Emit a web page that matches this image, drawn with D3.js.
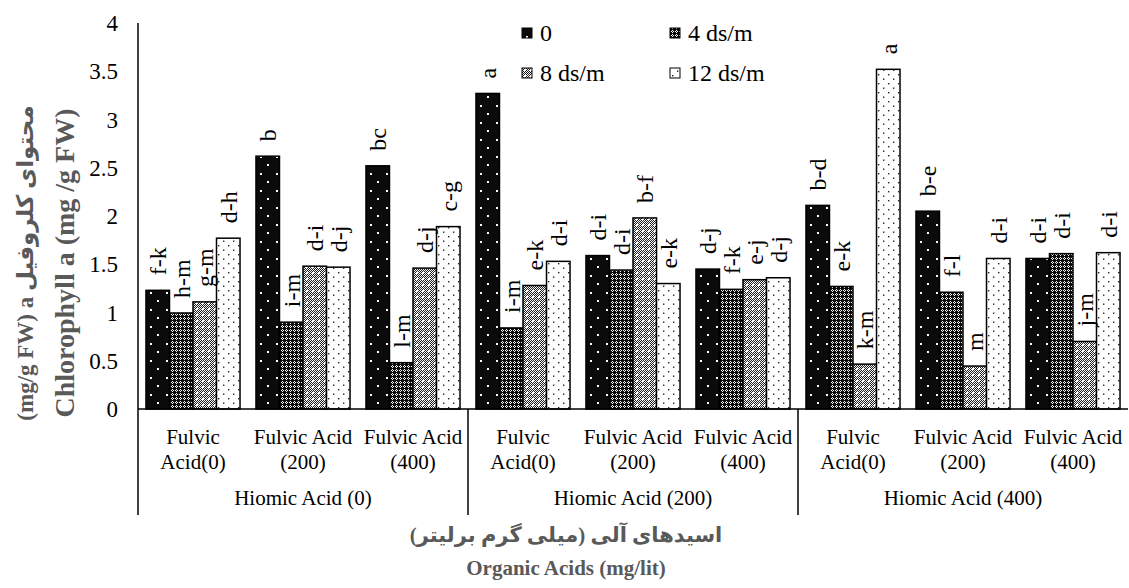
<!DOCTYPE html>
<html>
<head>
<meta charset="utf-8">
<script src="https://cdn.jsdelivr.net/npm/d3@7"></script>
<style>
  body { margin: 0; background: #fff; }
  text { font-family: "Liberation Serif", "Times New Roman", serif; }
</style>
</head>
<body>
<div id="chart"></div>
<script>
// data
var hiomicLabels = ["Hiomic Acid (0)", "Hiomic Acid (200)", "Hiomic Acid (400)"];
var fulvicLabels = [["Fulvic", "Acid(0)"], ["Fulvic Acid", "(200)"], ["Fulvic Acid", "(400)"]];
var seriesNames = ["0", "4 ds/m", "8 ds/m", "12 ds/m"];

var s0  = [1.23, 2.62, 2.52, 3.27, 1.59, 1.45, 2.11, 2.05, 1.56];
var s4  = [0.995, 0.90, 0.48, 0.84, 1.44, 1.24, 1.27, 1.21, 1.61];
var s8  = [1.11, 1.48, 1.46, 1.28, 1.98, 1.34, 0.465, 0.445, 0.70];
var s12 = [1.77, 1.47, 1.89, 1.53, 1.30, 1.36, 3.52, 1.56, 1.62];

var l0  = ["f-k", "b", "bc", "a", "d-i", "d-j", "b-d", "b-e", "d-i"];
var l4  = ["h-m", "i-m", "l-m", "i-m", "d-i", "f-k", "e-k", "f-l", "d-i"];
var l8  = ["g-m", "d-i", "d-j", "e-k", "b-f", "e-j", "k-m", "m", "j-m"];
var l12 = ["d-h", "d-j", "c-g", "d-i", "e-k", "d-j", "a", "d-i", "d-i"];

var yTicks = [0, 0.5, 1, 1.5, 2, 2.5, 3, 3.5, 4];

var values = [s0, s4, s8, s12];
var letters = [l0, l4, l8, l12];

// one cell per hiomic x fulvic combination
var cells = [];
hiomicLabels.forEach(function(h, i) {
  fulvicLabels.forEach(function(f, j) {
    cells.push({ id: i * 3 + j, hiomic: i, fulvic: f });
  });
});

var W = 1129, H = 588;
var plotL = 138, plotR = 1128, plotT = 23, base = 409, bottomLine = 515;

var svg = d3.select("#chart").append("svg")
  .attr("width", W).attr("height", H);

// patterns
var defs = svg.append("defs");

var p0 = defs.append("pattern").attr("id", "pat0")
  .attr("patternUnits", "userSpaceOnUse").attr("width", 16).attr("height", 17);
p0.append("rect").attr("width", 16).attr("height", 17).attr("fill", "#0b0b0b");
p0.append("rect").attr("x", 4).attr("y", 3).attr("width", 2).attr("height", 2).attr("fill", "#fff");
p0.append("rect").attr("x", 11).attr("y", 11).attr("width", 2).attr("height", 2).attr("fill", "#fff");

var p4 = defs.append("pattern").attr("id", "pat1")
  .attr("patternUnits", "userSpaceOnUse").attr("width", 4).attr("height", 4);
p4.append("rect").attr("width", 4).attr("height", 4).attr("fill", "#0d0d0d");
[[2, 1], [1, 2], [3, 2], [2, 3]].forEach(function(p) {
  p4.append("rect").attr("x", p[0]).attr("y", p[1]).attr("width", 1).attr("height", 1).attr("fill", "#fff");
});

var p8 = defs.append("pattern").attr("id", "pat2")
  .attr("patternUnits", "userSpaceOnUse").attr("width", 6).attr("height", 6);
p8.append("rect").attr("width", 6).attr("height", 6).attr("fill", "#1a1a1a");
for (var yy = 0; yy < 6; yy++) {
  for (var xx = 0; xx < 6; xx++) {
    if ((xx + yy) % 2 === 0) {
      p8.append("rect").attr("x", xx).attr("y", yy).attr("width", 1).attr("height", 1).attr("fill", "#fff");
    }
  }
}
p8.append("rect").attr("x", 2).attr("y", 2).attr("width", 2).attr("height", 2).attr("fill", "#fff");

var p12 = defs.append("pattern").attr("id", "pat3")
  .attr("patternUnits", "userSpaceOnUse").attr("width", 10).attr("height", 9);
p12.append("rect").attr("width", 10).attr("height", 9).attr("fill", "#fff");
p12.append("rect").attr("x", 2).attr("y", 2).attr("width", 1.4).attr("height", 1.4).attr("fill", "#222");
p12.append("rect").attr("x", 7).attr("y", 6.5).attr("width", 1.4).attr("height", 1.4).attr("fill", "#222");

// scales
var x0 = d3.scaleBand()
  .domain(cells.map(function(d) { return d.id; }))
  .range([plotL, plotR])
  .paddingInner(0.145)
  .paddingOuter(0.0725);

var x1 = d3.scaleBand()
  .domain(d3.range(seriesNames.length))
  .range([0, x0.bandwidth()]);

var y = d3.scaleLinear().domain([0, 4]).range([base, plotT]);

// y tick labels
svg.append("g").selectAll("text")
  .data(yTicks).enter().append("text")
    .attr("x", 118)
    .attr("y", function(d) { return y(d); })
    .attr("dy", "0.35em")
    .attr("text-anchor", "end")
    .attr("font-size", 23)
    .text(function(d) { return d; });

// bars
var groups = svg.append("g").selectAll("g")
  .data(cells).enter().append("g")
    .attr("transform", function(d) { return "translate(" + x0(d.id) + ",0)"; });

function cellBars(d) {
  return values.map(function(v, k) { return { k: k, v: v[d.id], lab: letters[k][d.id] }; });
}

groups.selectAll("rect")
  .data(cellBars)
  .enter().append("rect")
    .attr("x", function(d) { return x1(d.k); })
    .attr("y", function(d) { return y(d.v); })
    .attr("width", x1.bandwidth())
    .attr("height", function(d) { return base - y(d.v); })
    .attr("fill", function(d) { return "url(#pat" + d.k + ")"; })
    .attr("stroke", "#000")
    .attr("stroke-width", 1.5);

// significance letters
groups.selectAll("text")
  .data(cellBars)
  .enter().append("text")
    .attr("transform", function(d) {
      return "translate(" + (x1(d.k) + x1.bandwidth() / 2) + "," + (y(d.v) - 15) + ") rotate(-90)";
    })
    .attr("dy", "0.35em")
    .attr("font-size", 24)
    .text(function(d) { return d.lab; });

// axis lines
svg.append("line")
  .attr("x1", plotL).attr("x2", plotL).attr("y1", plotT).attr("y2", bottomLine)
  .attr("stroke", "#000").attr("stroke-width", 1.5);
svg.append("line")
  .attr("x1", plotL).attr("x2", plotR).attr("y1", base).attr("y2", base)
  .attr("stroke", "#000").attr("stroke-width", 1.5);

// separators between hiomic groups (midway in the gap)
var step = x0.step();
[3, 6].forEach(function(i) {
  var xs = x0(i) - step * x0.paddingInner() / 2;
  svg.append("line")
    .attr("x1", xs).attr("x2", xs).attr("y1", base).attr("y2", bottomLine)
    .attr("stroke", "#000").attr("stroke-width", 1.5);
});

// fulvic labels
var catLab = svg.append("g").selectAll("text")
  .data(cells).enter().append("text")
    .attr("x", function(d) { return x0(d.id) + x0.bandwidth() / 2; })
    .attr("y", 444)
    .attr("text-anchor", "middle")
    .attr("font-size", 21);
catLab.append("tspan").text(function(d) { return d.fulvic[0]; });
catLab.append("tspan")
  .attr("x", function(d) { return x0(d.id) + x0.bandwidth() / 2; })
  .attr("dy", 25)
  .text(function(d) { return d.fulvic[1]; });

// hiomic labels
svg.append("g").selectAll("text")
  .data(hiomicLabels).enter().append("text")
    .attr("x", function(d, i) { return (x0(i * 3) + x0(i * 3 + 2) + x0.bandwidth()) / 2; })
    .attr("y", 505)
    .attr("text-anchor", "middle")
    .attr("font-size", 21)
    .text(function(d) { return d; });

// legend
var legend = svg.append("g").selectAll("g")
  .data(seriesNames).enter().append("g")
    .attr("transform", function(d, i) {
      return "translate(" + (522 + (i % 2) * 148) + "," + (33 + Math.floor(i / 2) * 40) + ")";
    });
legend.append("rect")
  .attr("x", 0).attr("y", -5).attr("width", 10).attr("height", 10)
  .attr("fill", function(d, i) { return "url(#pat" + i + ")"; })
  .attr("stroke", "#000").attr("stroke-width", 1);
legend.append("text")
  .attr("x", 18).attr("dy", "0.35em")
  .attr("font-size", 24)
  .text(function(d) { return d; });

// axis titles
var yTitle = svg.append("g").attr("fill", "#595959").attr("font-weight", "bold");
yTitle.append("text")
  .attr("transform", "translate(25,263) rotate(-90)")
  .attr("dy", "0.35em")
  .attr("text-anchor", "middle")
  .attr("font-size", 23)
  .style("font-family", "'Liberation Serif', 'DejaVu Sans', serif")
  .text("(mg/g FW) a محتوای کلروفیل");
yTitle.append("text")
  .attr("transform", "translate(64,263) rotate(-90)")
  .attr("dy", "0.35em")
  .attr("text-anchor", "middle")
  .attr("font-size", 28)
  .text("Chlorophyll a (mg /g FW)");

var xTitle = svg.append("g").attr("fill", "#595959").attr("font-weight", "bold");
xTitle.append("text")
  .attr("x", 566).attr("y", 542)
  .attr("text-anchor", "middle")
  .attr("direction", "rtl")
  .attr("font-size", 21)
  .style("font-family", "'Liberation Serif', 'DejaVu Sans', serif")
  .text("اسیدهای آلی (میلی گرم برلیتر)");
xTitle.append("text")
  .attr("x", 566).attr("y", 575)
  .attr("text-anchor", "middle")
  .attr("font-size", 21)
  .text("Organic Acids (mg/lit)");
</script>
</body>
</html>
